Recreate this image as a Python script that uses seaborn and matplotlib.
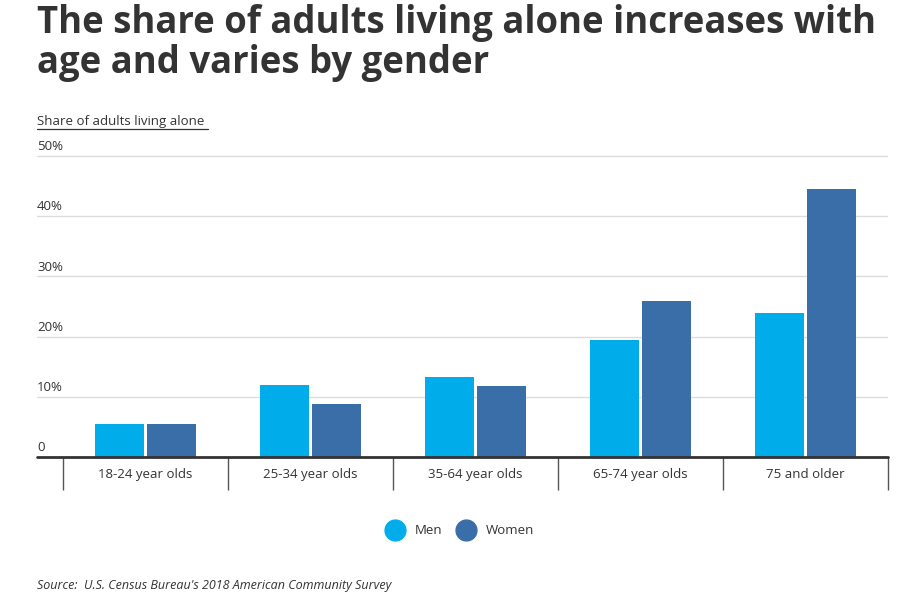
import matplotlib
matplotlib.use("Agg")
import matplotlib.pyplot as plt
from matplotlib.lines import Line2D
import seaborn as sns
import pandas as pd

# data (percent of adults living alone)
age_groups = ["18-24 year olds", "25-34 year olds", "35-64 year olds",
              "65-74 year olds", "75 and older"]
men = [5.5, 12.0, 13.3, 19.4, 23.9]
women = [5.5, 8.8, 11.8, 25.9, 44.5]
y_ticks = [0, 10, 20, 30, 40, 50]
y_tick_labels = ["0", "10%", "20%", "30%", "40%", "50%"]

MEN_COLOR = "#00ADEA"
WOMEN_COLOR = "#3A6EA8"
TEXT = "#333333"

sns.set_theme(style="white")
plt.rcParams["font.family"] = ["Open Sans", "DejaVu Sans"]

df = pd.DataFrame({
    "age": age_groups * 2,
    "share": men + women,
    "gender": ["Men"] * len(men) + ["Women"] * len(women),
})

W, H = 914, 609
fig = plt.figure(figsize=(W / 100, H / 100), dpi=100)

# axes: left edge 37px, right 888px, zero line at y=457, 10% = 60.2px
px10 = 60.2
top_val = 52
ax_left, ax_right = 37, 888
ax_bottom = 457
ax_top = ax_bottom - px10 * top_val / 10
ax = fig.add_axes([ax_left / W, 1 - ax_bottom / H,
                   (ax_right - ax_left) / W, (ax_bottom - ax_top) / H])

sns.barplot(data=df, x="age", y="share", hue="gender", order=age_groups,
            palette={"Men": MEN_COLOR, "Women": WOMEN_COLOR},
            width=0.62, gap=0.04, linewidth=0, saturation=1,
            legend=False, ax=ax)

# category band is 165px wide, first band starts at x=63
cat_w = (ax_right - 63) / len(age_groups)
ax.set_xlim(-0.5 - (63 - ax_left) / cat_w, len(age_groups) - 0.5)
ax.set_ylim(0, top_val)

# gridlines + labels sitting on top of them
for v in y_ticks[1:]:
    ax.axhline(v, color="#dcdcdc", lw=1, zorder=0)
for v, lab in zip(y_ticks, y_tick_labels):
    ax.text(0, v + 0.45, lab, transform=ax.get_yaxis_transform(),
            ha="left", va="bottom", fontsize=9.5, color=TEXT)
ax.axhline(0, color=TEXT, lw=2, zorder=5, clip_on=False)

for s in ax.spines.values():
    s.set_visible(False)
ax.set_yticks([])
ax.set_xlabel("")
ax.set_ylabel("")

# category separators below the baseline
ax.set_xticks([i - 0.5 for i in range(len(age_groups) + 1)], minor=True)
ax.tick_params(axis="x", which="minor", length=24, width=1, color="#555555",
               direction="out", bottom=True)
ax.tick_params(axis="x", which="major", length=0, pad=8, labelsize=9.5,
               labelcolor=TEXT)

# title / subtitle / source
fig.text(37 / W, 1 - 4 / H,
         "The share of adults living alone increases with\nage and varies by gender",
         ha="left", va="top", fontsize=26.3, fontweight="bold", color=TEXT,
         linespacing=1.08)
fig.text(37 / W, 1 - 121 / H, "Share of adults living alone", ha="left",
         va="center", fontsize=9.5, color=TEXT)
fig.add_artist(Line2D([37 / W, 208 / W], [1 - 129 / H, 1 - 129 / H],
                      color=TEXT, lw=0.9))
fig.text(37 / W, 1 - 585 / H,
         "Source:  U.S. Census Bureau's 2018 American Community Survey",
         ha="left", va="center", fontsize=9, style="italic", color=TEXT)

handles = [Line2D([], [], marker="o", ls="", markersize=15, color=MEN_COLOR),
           Line2D([], [], marker="o", ls="", markersize=15, color=WOMEN_COLOR)]
fig.legend(handles, ["Men", "Women"], loc="center", ncol=2, frameon=False,
           bbox_to_anchor=(458 / W, 1 - 531 / H), fontsize=9.5,
           handletextpad=0.5, columnspacing=0.8, labelcolor=TEXT)

fig.savefig("out.png", dpi=100)
plt.close(fig)
